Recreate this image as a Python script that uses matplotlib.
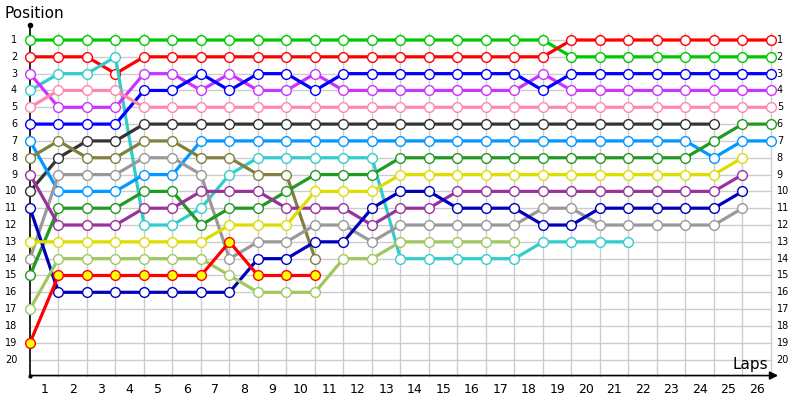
import numpy as np
import matplotlib
matplotlib.use("Agg")
import matplotlib.pyplot as plt

# lap-by-lap positions (index 0 = grid / start)
green    = [1]*19 + [2]*8
red      = [2, 2, 2, 3] + [2]*15 + [1]*8
cyan     = [4, 3, 3, 2, 12, 12, 11, 9, 8, 8, 8, 8, 8, 14, 14, 14, 14, 14, 13, 13, 13, 13]
purple   = [3, 5, 5, 5, 3, 3, 4, 3, 4, 4, 3] + [4]*7 + [3] + [4]*8
blue     = [6, 6, 6, 6, 4, 4, 3, 4, 3, 3, 4] + [3]*7 + [4] + [3]*8
pink     = [5, 4, 4, 4] + [5]*23
black    = [10, 8, 7, 7] + [6]*21
ltblue   = [7, 10, 10, 10, 9, 9] + [7]*18 + [8, 7, 7]
olive    = [8, 7, 8, 8, 7, 7, 8, 8, 9, 9, 14]
grey     = [14, 9, 9, 9, 8, 8, 9, 14, 13, 13, 12, 12, 13, 12, 12, 12, 12, 12, 11, 11, 12, 12, 12, 12, 12, 11]
dkgreen  = [15, 11, 11, 11, 10, 10, 12, 11, 11, 10, 9, 9, 9] + [8]*11 + [7, 6, 6]
dkpurple = [9, 12, 12, 12, 11, 11, 10, 10, 10, 11, 11, 11, 12, 11, 11] + [10]*10 + [9]
navy     = [11] + [16]*7 + [14, 14, 13, 13, 11, 10, 10, 11, 11, 11, 12, 12, 11, 11, 11, 11, 11, 10]
yellow   = [13]*7 + [12, 12, 12, 10, 10, 10] + [9]*12 + [8]
ltgreen  = [17] + [14]*6 + [15, 16, 16, 16, 14, 14, 13, 13, 13, 13, 13]
redyel   = [19, 15, 15, 15, 15, 15, 15, 13, 15, 15, 15]

series = [
    (green, '#00c800', 'white'),
    (red, '#ff0000', 'white'),
    (cyan, '#33cccc', 'white'),
    (purple, '#cc33ff', 'white'),
    (blue, '#0000ff', 'white'),
    (pink, '#ff88aa', 'white'),
    (black, '#333333', 'white'),
    (ltblue, '#0099ff', 'white'),
    (olive, '#808040', 'white'),
    (grey, '#999999', 'white'),
    (dkgreen, '#229922', 'white'),
    (dkpurple, '#993399', 'white'),
    (navy, '#0000bb', 'white'),
    (yellow, '#dddd00', 'white'),
    (ltgreen, '#a0c860', 'white'),
    (redyel, '#ff0000', '#ffff00'),
]

n_laps = 26
n_pos = 20

fig = plt.figure(figsize=(8, 4), dpi=100)
ax = fig.add_axes([0, 0, 1, 1])
# pixel mapping: lap k -> 30 + 28.5k, position p -> 40 + 16.82(p-1)
ax.set_xlim(-30 / 28.5, 770 / 28.5)
ax.set_ylim(1 + 360 / 16.82, 1 - 40 / 16.82)
ax.axis('off')

bottom = 20.95
# grid
for k in range(1, n_laps + 1):
    ax.plot([k, k], [0.6, bottom], color='#cccccc', lw=1, zorder=1)
for p in range(1, n_pos + 1):
    ax.plot([0, n_laps], [p, p], color='#cccccc', lw=1, zorder=1)

# axes
ax.plot([0, 0], [0.1, bottom], color='black', lw=1.2, zorder=2)
ax.plot([0], [0.1], 'o', color='black', ms=3, zorder=2)
ax.plot([0], [bottom], 'o', color='black', ms=2, zorder=2)
ax.annotate('', xy=(26.25, bottom), xytext=(0, bottom),
            arrowprops=dict(arrowstyle='-|>', color='black', lw=1.2,
                            mutation_scale=12, shrinkA=0, shrinkB=0), zorder=2)

ax.text(-0.9, -0.55, 'Position', fontsize=11, va='center', ha='left')
ax.text(25.9, 20.3, 'Laps', fontsize=11, va='center', ha='right')

for p in range(1, n_pos + 1):
    ax.text(-0.45, p, str(p), fontsize=7, ha='right', va='center')
    ax.text(26.2, p, str(p), fontsize=7, ha='left', va='center')
for k in range(1, n_laps + 1):
    ax.text(k - 0.5, 21.8, str(k), fontsize=9, ha='center', va='center')

# drivers
for i, (pos, col, face) in enumerate(series):
    laps = np.arange(len(pos))
    ax.plot(laps, pos, color=col, lw=2.3, marker='o', ms=7,
            mfc=face, mec=col, mew=1, zorder=3 + i, clip_on=False)

fig.savefig('out.png', dpi=100)
